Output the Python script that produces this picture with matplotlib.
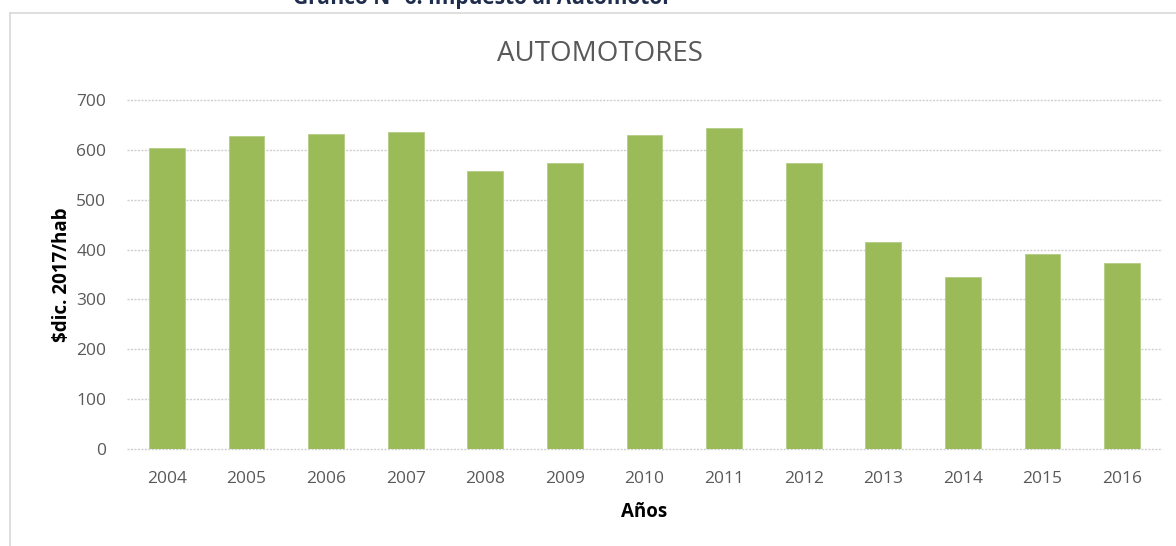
"""Automotores: impuesto per capita, bar chart."""

import matplotlib

matplotlib.use("Agg")
import matplotlib.pyplot as plt
import numpy as np

plt.rcParams["font.family"] = ["Open Sans", "DejaVu Sans"]

years = ["2004", "2005", "2006", "2007", "2008", "2009", "2010",
         "2011", "2012", "2013", "2014", "2015", "2016"]
values = [604, 628, 632, 636, 557, 573, 629, 643, 573, 416, 345, 391, 374]
y_ticks = [0, 100, 200, 300, 400, 500, 600, 700]

BAR_COLOR = "#9BBB59"
TEXT_GRAY = "#595959"

fig = plt.figure(figsize=(11.76, 5.46), dpi=100)
ax = fig.add_axes([0.108, 0.1777, 0.880, 0.6391])

x = np.arange(len(years))
ax.bar(x, values, width=0.45, color=BAR_COLOR, edgecolor="#b5cc85",
       linewidth=0.6, zorder=3)

ax.set_xlim(-0.5, len(years) - 0.5)
ax.set_ylim(0, 700)
ax.set_yticks(y_ticks)
ax.set_xticks(x)
ax.set_xticklabels(years)
ax.tick_params(axis="both", length=0, colors=TEXT_GRAY, labelsize=12.5)
ax.tick_params(axis="x", pad=16)
ax.tick_params(axis="y", pad=15)
ax.grid(axis="y", color="#cfcfcf", linestyle=(0, (1.5, 1)), linewidth=1.0, zorder=0)
for gl in ax.get_ygridlines():
    gl.set_clip_on(False)
ax.set_axisbelow(True)
for s in ax.spines.values():
    s.set_visible(False)

ax.set_ylabel("$dic. 2017/hab", fontsize=13.5, fontweight="bold", color="black",
              labelpad=3)
ax.set_xlabel("Años", fontsize=13.5, fontweight="bold", color="black", labelpad=11)

fig.text(0.51, 0.902, "AUTOMOTORES", ha="center", va="center",
         fontsize=20, color=TEXT_GRAY)

# caption of the source document, cut off at the top edge
fig.text(0.41, 1.003, "Gráfico N° 6: Impuesto al Automotor", ha="center",
         va="center", fontsize=15, fontweight="bold", color="#1f2d4d")

# chart frame
fig.add_artist(plt.Line2D([10 / 1176, 1], [1 - 13 / 546] * 2,
                          color="#d9d9d9", lw=1.2, transform=fig.transFigure))
fig.add_artist(plt.Line2D([10 / 1176] * 2, [0, 1 - 13 / 546],
                          color="#d9d9d9", lw=1.2, transform=fig.transFigure))

fig.savefig("out.png", dpi=100)
plt.close(fig)
